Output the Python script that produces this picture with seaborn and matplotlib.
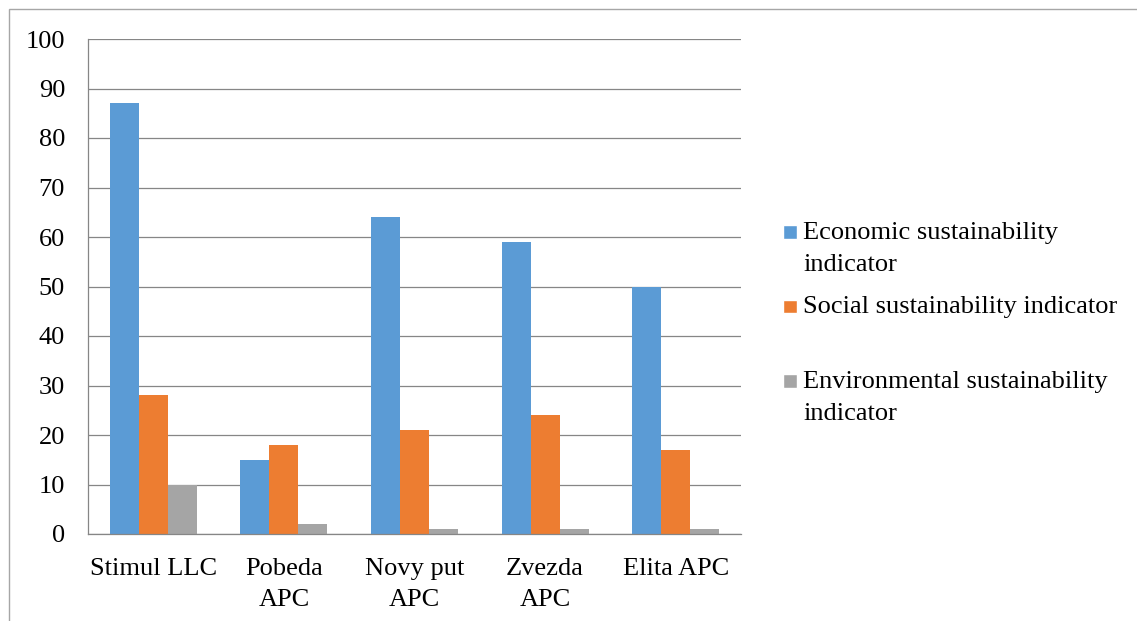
import numpy as np
import pandas as pd
import matplotlib
matplotlib.use("Agg")
import matplotlib.pyplot as plt
import seaborn as sns
from matplotlib.patches import Patch, Rectangle
from matplotlib.legend_handler import HandlerPatch

# data
companies = ["Stimul LLC", "Pobeda\nAPC", "Novy put\nAPC", "Zvezda\nAPC", "Elita APC"]
indicators = ["Economic sustainability\nindicator",
              "Social sustainability indicator\n",
              "Environmental sustainability\nindicator"]
economic = [87, 15, 64, 59, 50]
social = [28, 18, 21, 24, 17]
environmental = [10, 2, 1, 1, 1]
colors = ["#5B9BD5", "#ED7D31", "#A5A5A5"]

df = pd.DataFrame({
    "company": companies * 3,
    "indicator": [indicators[0]] * 5 + [indicators[1]] * 5 + [indicators[2]] * 5,
    "value": economic + social + environmental,
})

sns.set_style("white")
plt.rcParams["font.family"] = ["Liberation Serif", "DejaVu Serif"]
plt.rcParams["text.color"] = "black"
FS = 19
GRAY = "#868686"

fig = plt.figure(figsize=(11.37, 6.21), dpi=100)
ax = fig.add_axes([88 / 1137, 1 - 534 / 621, (741 - 88) / 1137, (534 - 39) / 621])

sns.barplot(data=df, x="company", y="value", hue="indicator", palette=colors,
            saturation=1, width=0.667, gap=0, linewidth=0, legend=False, ax=ax)

ax.set_xlim(-0.5, 4.5)
ax.set_ylim(0, 100)
ax.set_yticks(np.arange(0, 101, 10))
ax.set_xlabel("")
ax.set_ylabel("")

# ticks at group boundaries, labels at group centres
ax.set_xticks(np.arange(-0.5, 5, 1), labels=[])
ax.set_xticks(range(5), labels=companies, minor=True)
ax.tick_params(axis="x", which="major", length=5, width=0.9, color=GRAY, direction="out")
ax.tick_params(axis="x", which="minor", length=0, pad=17, labelsize=FS, labelcolor="black")
ax.tick_params(axis="y", length=5, width=0.9, color=GRAY, direction="out", pad=11.5,
               labelsize=FS, labelcolor="black")
for t in ax.get_xticklabels(minor=True):
    t.set_linespacing(1.55)
    t.set_ha("center")

ax.set_axisbelow(True)
ax.yaxis.grid(True, color=GRAY, linewidth=0.9)
ax.xaxis.grid(False)
for side in ["top", "right"]:
    ax.spines[side].set_visible(False)
for side in ["left", "bottom"]:
    ax.spines[side].set_color(GRAY)
    ax.spines[side].set_linewidth(0.9)


def square_patch(legend, orig_handle, xdescent, ydescent, width, height, fontsize):
    side = 0.52 * fontsize
    # legend text is centred on the handle; lift the square to the first line
    return Rectangle((-xdescent, 0.70 * fontsize), side, side)


handles = [Patch(facecolor=c) for c in colors]
leg = fig.legend(handles, indicators, loc="upper left",
                 bbox_to_anchor=(783 / 1137, 1 - 222 / 621),
                 frameon=False, borderpad=0, borderaxespad=0,
                 handlelength=0.55, handletextpad=0.22, labelspacing=0.76,
                 prop={"size": FS},
                 handler_map={Patch: HandlerPatch(patch_func=square_patch)})
for t in leg.get_texts():
    t.set_linespacing(1.6)
    t.set_color("black")

# thin frame around the chart area
fig.add_artist(Rectangle((9 / 1137, -0.05), 1.1, 1 - 9 / 621 + 0.05,
                         transform=fig.transFigure, fill=False,
                         edgecolor="#A6A6A6", linewidth=1))

fig.savefig("out.png", dpi=100)
